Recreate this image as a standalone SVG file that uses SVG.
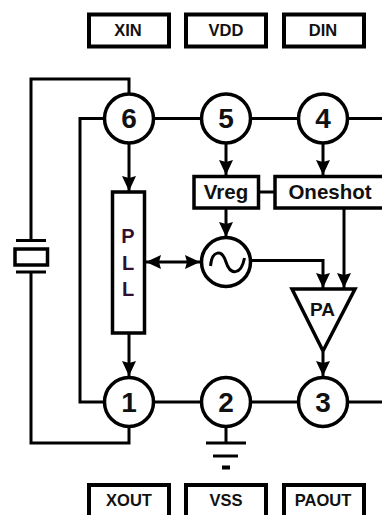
<svg xmlns="http://www.w3.org/2000/svg" width="382" height="515" viewBox="0 0 382 515">
<style>
.s{fill:none;stroke:#000;stroke-width:3}
.b{fill:#fff;stroke:#000;stroke-width:3.500}
.k{fill:#fff;stroke:#000;stroke-width:4}
.t{font-family:"Liberation Sans",Arial,sans-serif;font-weight:bold;fill:#111;text-anchor:middle}
.p{font-size:16.500px}
.n{font-size:28px}
.m{font-size:20.500px}
.l{font-size:20px;fill:#301030}
</style>
<defs>
<marker id="a" markerUnits="userSpaceOnUse" markerWidth="17" markerHeight="16" refX="15" refY="8" orient="auto-start-reverse"><path d="M0 1L15 8L0 15L2 8Z" fill="#000"/></marker>
</defs>
<rect width="382" height="515" fill="#fff"/>
<g id="connectors" class="s">
<path d="M129 93V79H31V240"/>
<path d="M104 118.500H80V402H104"/>
<path d="M154 118.500H201M251 118.500H298M348 118.500H382"/>
<path d="M154 402H201M251 402H298M348 402H382"/>
<path d="M129 426V443H31V272"/>
<path d="M129 143V191" marker-end="url(#a)"/>
<path d="M226 143V175" marker-end="url(#a)"/>
<path d="M323 143V175" marker-end="url(#a)"/>
<path d="M226 208V237" marker-end="url(#a)"/>
<path d="M259 192H274"/>
<path d="M344 208V288" marker-end="url(#a)"/>
<path d="M251 260.500H323V288" marker-end="url(#a)"/>
<path d="M146 262H200" marker-start="url(#a)" marker-end="url(#a)"/>
<path d="M129 334V376" marker-end="url(#a)"/>
<path d="M323 352V376" marker-end="url(#a)"/>
<path d="M226 427V443M206 443H246M213 456H238"/>
<path d="M222 467.500H230" stroke-width="4"/>
<path d="M16 240.500H46M16 272H46"/>
</g>
<g id="xin"><rect class="k" x="89" y="14.500" width="80" height="32"/><text class="t p" x="128" y="35.500">XIN</text></g>
<g id="vdd"><rect class="k" x="186" y="14.500" width="80" height="32"/><text class="t p" x="226" y="35.500">VDD</text></g>
<g id="din"><rect class="k" x="284" y="14.500" width="80" height="32"/><text class="t p" x="323" y="35.500">DIN</text></g>
<g id="xout"><rect class="k" x="89" y="485" width="80" height="32"/><text class="t p" x="129" y="505.500">XOUT</text></g>
<g id="vss"><rect class="k" x="186" y="485" width="80" height="32"/><text class="t p" x="226" y="505.500">VSS</text></g>
<g id="paout"><rect class="k" x="284" y="485" width="80" height="32"/><text class="t p" x="323" y="505.500">PAOUT</text></g>
<g id="pin6"><circle class="b" cx="129" cy="118.500" r="24.500"/><text class="t n" x="129" y="128">6</text></g>
<g id="pin5"><circle class="b" cx="226" cy="118.500" r="24.500"/><text class="t n" x="226" y="128">5</text></g>
<g id="pin4"><circle class="b" cx="323" cy="118.500" r="24.500"/><text class="t n" x="323" y="128">4</text></g>
<g id="pin1"><circle class="b" cx="129" cy="402" r="24.500"/><text class="t n" x="129" y="412">1</text></g>
<g id="pin2"><circle class="b" cx="226" cy="402" r="24.500"/><text class="t n" x="226" y="412">2</text></g>
<g id="pin3"><circle class="b" cx="323" cy="402" r="24.500"/><text class="t n" x="323" y="412">3</text></g>
<g id="pll"><rect class="b" x="112.500" y="192" width="32" height="141"/><text class="t l" x="128" y="243">P</text><text class="t l" x="128" y="270">L</text><text class="t l" x="128" y="296">L</text></g>
<g id="vreg"><rect class="b" x="194" y="176.500" width="64.500" height="31.500"/><text class="t m" x="226" y="199">Vreg</text></g>
<g id="oneshot"><rect class="b" x="275" y="176.500" width="112" height="31.500"/><text class="t m" x="330" y="199">Oneshot</text></g>
<g id="osc"><circle class="b" cx="226" cy="262" r="24.500"/><path class="s" d="M210.500 266C212 250 222 249 226 262S241 276 244.500 258"/></g>
<g id="pa"><path class="b" d="M292 289H355L323 351Z"/><text class="t" x="322.500" y="316" font-size="19">PA</text></g>
<g id="crystal"><rect class="b" x="15" y="249" width="32.500" height="16"/></g>
</svg>
